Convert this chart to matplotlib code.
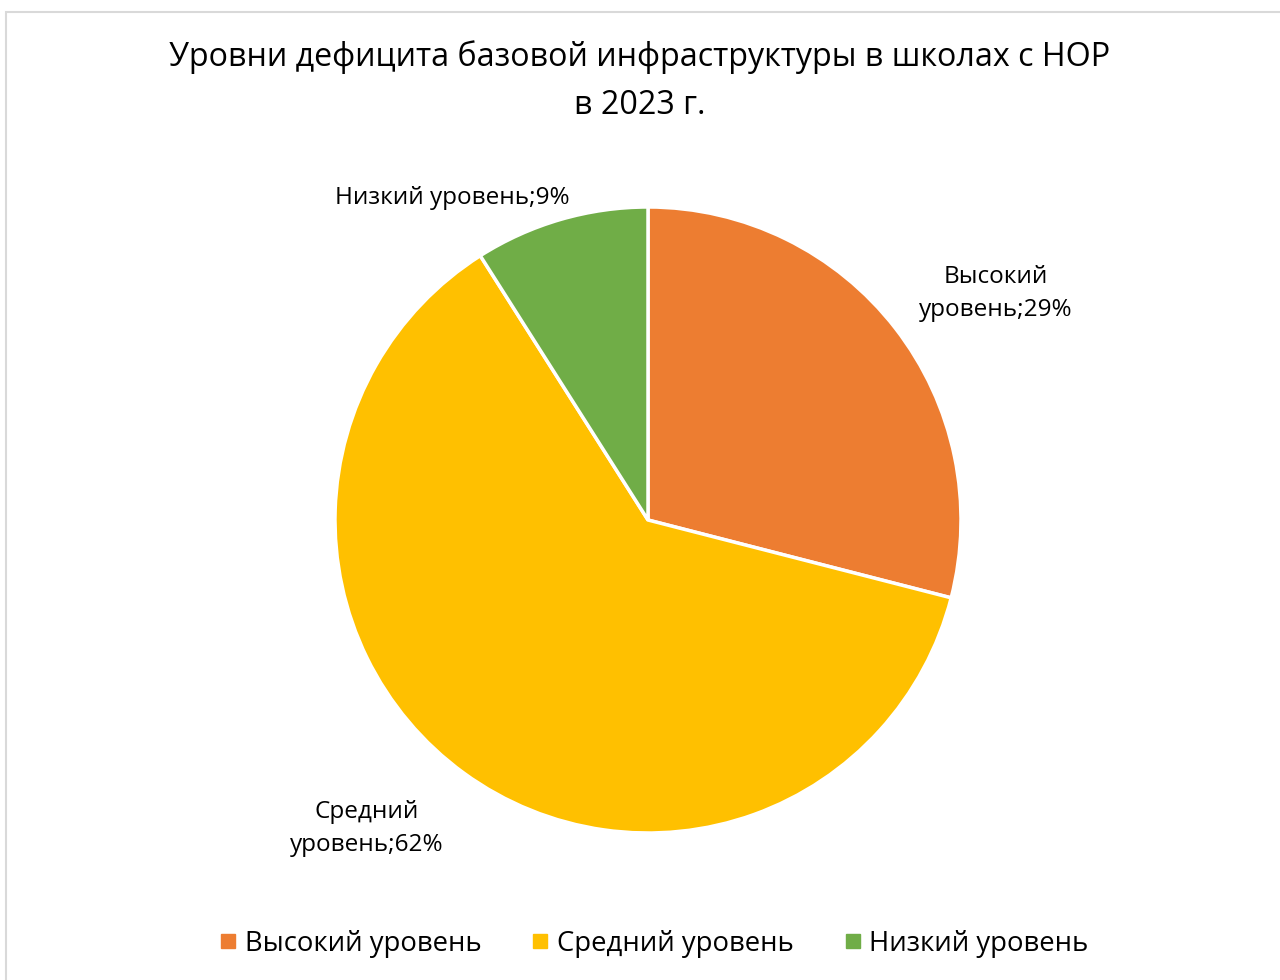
import matplotlib.pyplot as plt
import matplotlib.patches as patches
from matplotlib.lines import Line2D

plt.rcParams['font.family'] = ['Open Sans', 'DejaVu Sans']

title = "Уровни дефицита базовой инфраструктуры в школах с НОР\nв 2023 г."
categories = ["Высокий уровень", "Средний уровень", "Низкий уровень"]
shares = [29, 62, 9]
point_labels = ["Высокий\nуровень;29%", "Средний\nуровень;62%", "Низкий уровень;9%"]
colors = ["#ED7D31", "#FFC000", "#70AD47"]

W, H = 1280, 980
fig = plt.figure(figsize=(W / 100, H / 100), dpi=100)

# рамка области диаграммы
fig.patches.append(patches.Rectangle((6 / W, -0.01), 1.1, 1 - 12 / H + 0.01,
                                     transform=fig.transFigure, fill=False,
                                     edgecolor='#d9d9d9', linewidth=1.5))

cx, cy, r = 648, 520, 313
ax = fig.add_axes([(cx - r) / W, (H - cy - r) / H, 2 * r / W, 2 * r / H])
ax.pie(shares, colors=colors, startangle=90, counterclock=False, radius=1,
       wedgeprops=dict(edgecolor='white', linewidth=2.5))
ax.set_xlim(-1, 1)
ax.set_ylim(-1, 1)
ax.set_aspect('equal')
ax.axis('off')

# подписи данных
label_pos = [(1.11, 0.725), (-0.90, -0.985), (-0.626, 1.03)]
for (x, y), txt in zip(label_pos, point_labels):
    ax.text(x, y, txt, ha='center', va='center', fontsize=17.5,
            linespacing=1.5, color='#000000', clip_on=False)

fig.text(0.5, 1 - 81 / H, title, ha='center', va='center', fontsize=23.2,
         linespacing=1.6)

handles = [Line2D([], [], marker='s', linestyle='none', markersize=10,
                  markerfacecolor=c, markeredgecolor=c) for c in colors]
fig.legend(handles, categories, loc='center', bbox_to_anchor=(0.51, 1 - 944 / H),
           ncol=3, frameon=False, fontsize=19.8, handletextpad=0.2,
           columnspacing=1.75, handlelength=0.8)

fig.savefig('out.png', dpi=100)
